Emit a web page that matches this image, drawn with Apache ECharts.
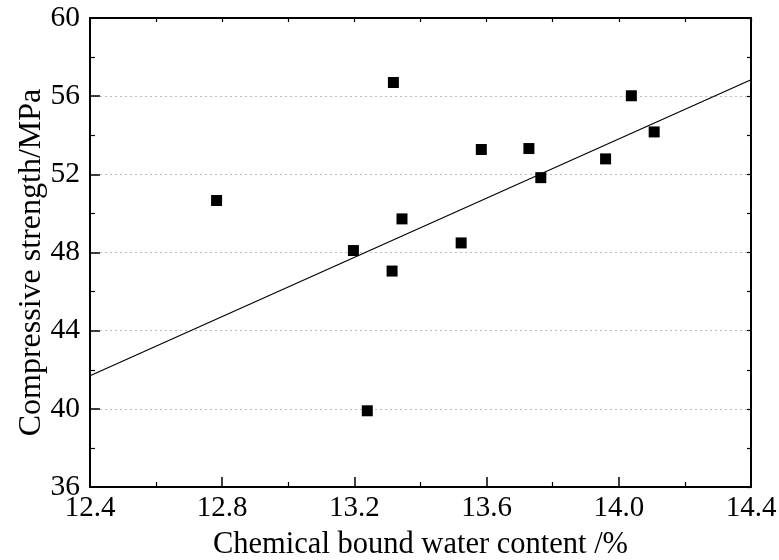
<!DOCTYPE html>
<html>
<head>
<meta charset="utf-8">
<script src="https://cdn.jsdelivr.net/npm/echarts@6/dist/echarts.min.js"></script>
<style>
    html, body { margin: 0; padding: 0; background: #fff; }
    #strength_scatter { width: 779px; height: 560px; }
</style>
</head>
<body>
<div id="strength_scatter"></div>
<script>
// Data
// ------------------------------

var waterContent = [12.783, 13.197, 13.318, 13.314, 13.344, 13.239, 13.523, 13.584, 13.728, 13.764, 13.960, 14.038, 14.107];
var strength = [50.66, 48.10, 56.70, 47.05, 49.72, 39.90, 48.49, 53.27, 53.32, 51.83, 52.79, 56.02, 54.17];

// Linear fit, end points at the axis limits
var fitX = [12.4, 14.4];
var fitY = [41.69, 56.84];

var xTicks = { min: 12.4, max: 14.4, step: 0.4 };
var yTicks = { min: 36, max: 60, step: 4 };


// Setup chart
// ------------------------------

var fontFace = '"Liberation Serif", "Times New Roman", serif';

var chart_element = document.getElementById('strength_scatter');
var chart = echarts.init(chart_element);

var points = waterContent.map(function(x, i) { return [x, strength[i]]; });
var fitLine = fitX.map(function(x, i) { return [x, fitY[i]]; });

var axisLineStyle = { color: '#000', width: 2 };

chart.setOption({
    animation: false,

    textStyle: {
        fontFamily: fontFace
    },

    // Fixed plot box, no auto shrinking for labels
    grid: {
        left: 90,
        right: 28,
        top: 18,
        bottom: 73,
        outerBoundsMode: 'none'
    },

    // Horizontal axes (bottom with labels, top mirrors ticks)
    xAxis: [{
        type: 'value',
        position: 'bottom',
        min: xTicks.min,
        max: xTicks.max,
        interval: xTicks.step,
        name: 'Chemical bound water content /%',
        nameLocation: 'middle',
        nameGap: 42,
        nameMoveOverlap: false,
        nameTextStyle: { color: '#000', fontSize: 30.5, fontFamily: fontFace },
        axisLine: { show: true, onZero: false, lineStyle: axisLineStyle },
        axisTick: { show: true, inside: true, length: 10, lineStyle: { color: '#000', width: 1.5 } },
        minorTick: { show: true, splitNumber: 2, length: 5, lineStyle: { color: '#000', width: 1.2 } },
        axisLabel: {
            color: '#000',
            fontSize: 29,
            margin: 7,
            fontFamily: fontFace,
            formatter: function(v) { return v.toFixed(1); }
        },
        splitLine: { show: false }
    }, {
        type: 'value',
        position: 'top',
        min: xTicks.min,
        max: xTicks.max,
        interval: xTicks.step / 2,
        axisLine: { show: true, onZero: false, lineStyle: axisLineStyle },
        axisTick: { show: true, inside: true, length: 4, lineStyle: { color: '#000', width: 1.2 } },
        axisLabel: { show: false },
        splitLine: { show: false }
    }],

    // Vertical axes (left with labels, right mirrors ticks)
    yAxis: [{
        type: 'value',
        position: 'left',
        min: yTicks.min,
        max: yTicks.max,
        interval: yTicks.step,
        name: 'Compressive strength/MPa',
        nameLocation: 'middle',
        nameGap: 42,
        nameMoveOverlap: false,
        nameTextStyle: { color: '#000', fontSize: 32, fontFamily: fontFace, padding: [0, 20, 0, 0] },
        axisLine: { show: true, onZero: false, lineStyle: axisLineStyle },
        axisTick: { show: true, inside: true, length: 10, lineStyle: { color: '#000', width: 1.5 } },
        minorTick: { show: true, splitNumber: 2, length: 5, lineStyle: { color: '#000', width: 1.2 } },
        axisLabel: {
            color: '#000',
            fontSize: 29.5,
            margin: 10,
            fontFamily: fontFace
        },
        splitLine: {
            show: true,
            lineStyle: { color: '#bbbbbb', type: [2, 3], width: 1 }
        }
    }, {
        type: 'value',
        position: 'right',
        min: yTicks.min,
        max: yTicks.max,
        interval: yTicks.step / 2,
        axisLine: { show: true, onZero: false, lineStyle: axisLineStyle },
        axisTick: { show: true, inside: true, length: 4, lineStyle: { color: '#000', width: 1.2 } },
        axisLabel: { show: false },
        splitLine: { show: false }
    }],

    series: [
        {
            name: 'Fit',
            type: 'line',
            data: fitLine,
            symbol: 'none',
            silent: true,
            lineStyle: { color: '#000', width: 1.2 },
            z: 2
        },
        {
            name: 'Measured',
            type: 'scatter',
            data: points,
            symbol: 'rect',
            symbolSize: 11,
            itemStyle: { color: '#000', opacity: 1 },
            z: 3
        }
    ]
});
</script>
</body>
</html>
